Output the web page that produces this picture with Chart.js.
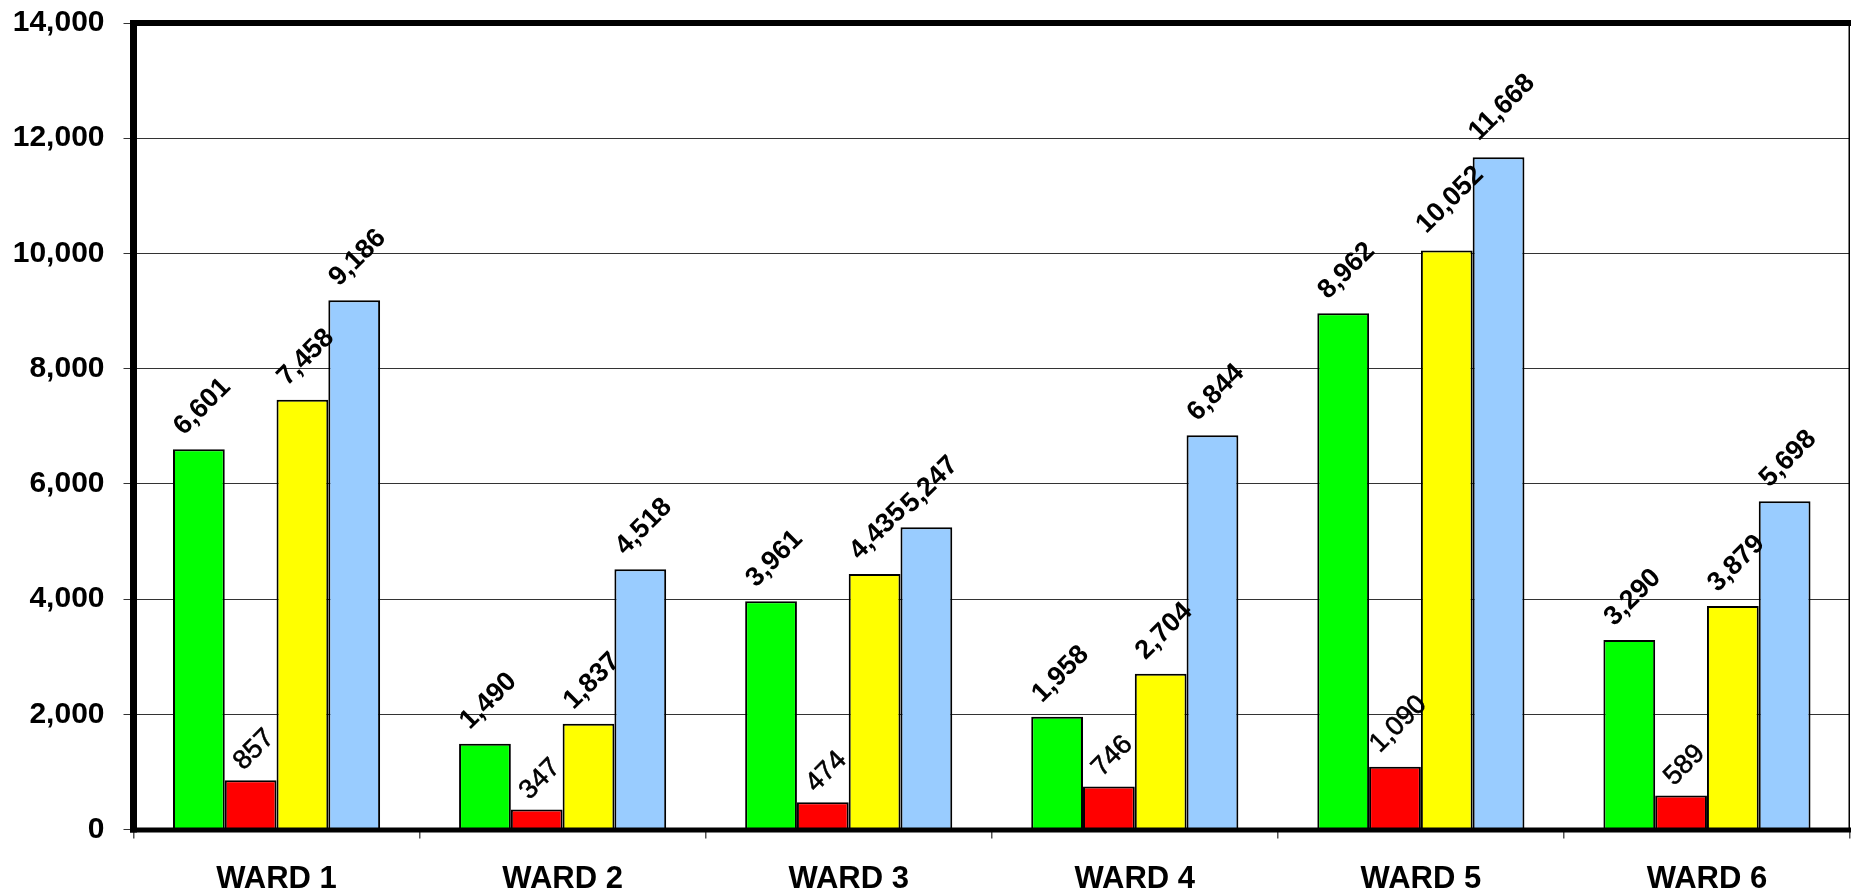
<!DOCTYPE html>
<html>
<head>
<meta charset="utf-8">
<script src="https://cdn.jsdelivr.net/npm/chart.js@4.4.1/dist/chart.umd.min.js"></script>
<style>
  html, body { margin: 0; padding: 0; background: #ffffff; }
  #wrap { width: 1851px; height: 890px; position: relative; }
</style>
</head>
<body>
<div id="wrap"><canvas id="chart" width="1851" height="890"></canvas></div>
<script>
// Ward figures, one array per series
const wards = ['WARD 1', 'WARD 2', 'WARD 3', 'WARD 4', 'WARD 5', 'WARD 6'];
const greenValues  = [6601, 1490, 3961, 1958, 8962, 3290];
const redValues    = [857, 347, 474, 746, 1090, 589];
const yellowValues = [7458, 1837, 4435, 2704, 10052, 3879];
const blueValues   = [9186, 4518, 5247, 6844, 11668, 5698];
const yTicks = [0, 2000, 4000, 6000, 8000, 10000, 12000, 14000];

const FONT = '"Liberation Sans", Arial, Helvetica, sans-serif';
const fmt = v => v.toLocaleString('en-US');

// Rotated value labels above each bar
const valueLabels = {
  id: 'valueLabels',
  afterDatasetsDraw(chart) {
    const ctx = chart.ctx;
    chart.data.datasets.forEach((ds, di) => {
      const meta = chart.getDatasetMeta(di);
      const weight = ds.labelWeight || 'bold';
      meta.data.forEach((bar, i) => {
        const text = fmt(ds.data[i]);
        ctx.save();
        ctx.font = weight + ' 27px ' + FONT;
        const w = ctx.measureText(text).width;
        const off = 6 + 0.54 * w;
        ctx.translate(bar.x + 3.5, bar.y - off);
        ctx.rotate(-Math.PI / 4);
        ctx.fillStyle = '#000000';
        ctx.textAlign = 'center';
        ctx.textBaseline = 'middle';
        ctx.fillText(text, 0, 0);
        if (weight !== 'bold') {
          ctx.strokeStyle = '#000000';
          ctx.lineWidth = 0.6;
          ctx.strokeText(text, 0, 0);
        }
        ctx.restore();
      });
    });
  }
};

// Heavy frame around the plot area
const plotFrame = {
  id: 'plotFrame',
  afterDraw(chart) {
    const a = chart.chartArea;
    const ctx = chart.ctx;
    ctx.save();
    ctx.strokeStyle = '#000000';
    ctx.lineCap = 'butt';
    // right edge (thin)
    ctx.lineWidth = 1.5;
    ctx.beginPath();
    ctx.moveTo(a.right - 0.75, a.top);
    ctx.lineTo(a.right - 0.75, a.bottom);
    ctx.stroke();
    // top edge
    ctx.lineWidth = 6;
    ctx.beginPath();
    ctx.moveTo(a.left - 3.5, a.top);
    ctx.lineTo(a.right + 1, a.top);
    ctx.stroke();
    // bottom axis
    ctx.lineWidth = 5;
    ctx.beginPath();
    ctx.moveTo(a.left - 3.5, a.bottom + 0.5);
    ctx.lineTo(a.right + 1, a.bottom + 0.5);
    ctx.stroke();
    // left axis
    ctx.lineWidth = 7;
    ctx.beginPath();
    ctx.moveTo(a.left, a.top - 3);
    ctx.lineTo(a.left, a.bottom + 3);
    ctx.stroke();
    ctx.restore();
  }
};

const barStyle = { borderColor: '#000000', borderWidth: 2, borderSkipped: 'start' };

new Chart(document.getElementById('chart'), {
  type: 'bar',
  data: {
    labels: wards,
    datasets: [
      Object.assign({ label: 'Green', data: greenValues, backgroundColor: '#00FF00' }, barStyle),
      Object.assign({ label: 'Red', data: redValues, backgroundColor: '#FF0000', labelWeight: 'normal' }, barStyle),
      Object.assign({ label: 'Yellow', data: yellowValues, backgroundColor: '#FFFF00' }, barStyle),
      Object.assign({ label: 'Blue', data: blueValues, backgroundColor: '#99CCFF' }, barStyle)
    ]
  },
  options: {
    responsive: false,
    animation: false,
    devicePixelRatio: 1,
    categoryPercentage: 0.724,
    barPercentage: 1.0,
    layout: { padding: { top: 23, right: 1, left: 0, bottom: 0 } },
    plugins: {
      legend: { display: false },
      tooltip: { enabled: false }
    },
    scales: {
      x: {
        grid: {
          offset: true,
          drawOnChartArea: false,
          drawTicks: true,
          tickLength: 9,
          color: '#555555',
          lineWidth: 1.5
        },
        border: { display: false },
        ticks: {
          color: '#000000',
          font: { family: FONT, size: 31, weight: 'bold' },
          padding: 22,
          maxRotation: 0
        },
        afterFit(scale) {
          scale.height = 60.5;
          scale.paddingLeft = 0;
          scale.paddingRight = 0;
        }
      },
      y: {
        min: 0,
        max: 14000,
        afterBuildTicks(scale) { scale.ticks = yTicks.map(v => ({ value: v })); },
        grid: {
          color: '#333333',
          lineWidth: 1,
          drawTicks: true,
          tickLength: 10
        },
        border: { display: false },
        ticks: {
          color: '#000000',
          font: { family: FONT, size: 30, weight: 'bold' },
          padding: 19,
          callback: v => fmt(v)
        },
        afterFit(scale) {
          scale.width = 133.5;
          scale.paddingTop = 0;
          scale.paddingBottom = 0;
        }
      }
    }
  },
  plugins: [valueLabels, plotFrame]
});
</script>
</body>
</html>
